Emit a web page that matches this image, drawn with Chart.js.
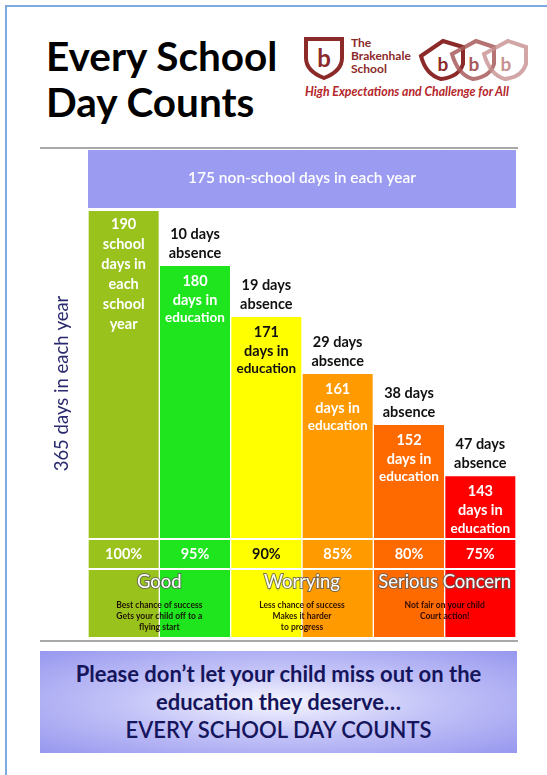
<!DOCTYPE html>
<html>
<head>
<meta charset="utf-8">
<script src="https://cdn.jsdelivr.net/npm/chart.js@4"></script>
<style>
  body { margin: 0; width: 547px; height: 775px; background: #fff; position: relative; overflow: hidden; font-family: Lato, "Open Sans", sans-serif; }
  .frame { position: absolute; left: 5px; top: 5px; width: 560px; height: 800px; border-left: 2px solid #7ea9e1; border-top: 2px solid #7ea9e1; }
  .title { position: absolute; left: 46px; top: 33px; font-size: 40.5px; font-weight: 700; line-height: 46px; color: #000; }
  .logo { position: absolute; left: 300px; top: 32px; }
  .rule { position: absolute; left: 40px; width: 478px; height: 2px; background: #a8a8a8; }
  .chartbox { position: absolute; left: 40px; top: 150px; width: 476px; height: 487px; }
  .message { position: absolute; left: 40px; top: 651px; width: 477px; height: 102px;
    background: radial-gradient(ellipse at center, #f6f6ff 0%, #c4c4f8 45%, #9797ef 100%);
    color: #15155c; font-weight: 700; font-size: 22px; text-align: center; line-height: 28px; padding-top: 9px; box-sizing: border-box; }
</style>
</head>
<body>
<div class="frame"></div>
<div class="title">Every School<br>Day Counts</div>
<svg class="logo" width="235" height="72" viewBox="0 0 235 72">
  <g fill="none" stroke="#8c2a2a" stroke-width="4">
    <path d="M6 7 L42 7 L42 26 Q42 39 24 46 Q6 39 6 26 Z"/>
  </g>
  <text x="24" y="35" fill="#8c2a2a" font-size="24" font-weight="700" text-anchor="middle" font-family="Lato">b</text>
  <g font-family="Lato" font-weight="700" font-size="12" fill="#8c2a2a">
    <text x="51" y="15">The</text>
    <text x="51" y="28">Brakenhale</text>
    <text x="51" y="41">School</text>
  </g>
  <g fill="none" stroke-width="4">
    <path d="M121 24 L143 9 L163 15 L163 32 Q159 45 141 47 Q126 43 121 24 Z" stroke="#8c2a2a"/>
    <path d="M152 22 L176 9 L194 15 L194 32 Q190 45 173 47 Q158 43 152 22 Z" stroke="#a85a5a" opacity="0.85"/>
    <path d="M184 22 L208 9 L226 15 L226 32 Q222 45 205 47 Q190 43 184 22 Z" stroke="#c79090" opacity="0.8"/>
  </g>
  <g font-family="Lato" font-weight="700" font-size="19" text-anchor="middle">
    <text x="143" y="39" fill="#8c2a2a">b</text>
    <text x="174" y="39" fill="#a85a5a">b</text>
    <text x="206" y="39" fill="#c79090">b</text>
  </g>
  <text x="5" y="64" font-family="Lato" font-style="italic" font-weight="700" font-size="12.3" fill="#b5262a">High Expectations and Challenge for All</text>
</svg>
<div class="rule" style="top:147px"></div>
<div class="chartbox"><canvas id="myChart"></canvas></div>
<div class="rule" style="top:640px"></div>
<div class="message">Please don’t let your child miss out on the<br>education they deserve…<br><span style="font-weight:600">EVERY SCHOOL DAY COUNTS</span></div>

<script>
const attendance = ['100%', '95%', '90%', '85%', '80%', '75%'];
const educationDays = [190, 180, 171, 161, 152, 143];
const absenceDays = [0, 10, 19, 29, 38, 47];
const nonSchoolDays = [175, 175, 175, 175, 175, 175];
const barColors = ['#99c21c', '#1fe51f', '#ffff00', '#ff9a00', '#ff6a00', '#ff0000'];
const darkText = [false, false, true, false, false, false];
const bandNames = ['Good', 'Worrying', 'Serious Concern'];
const bandNotes = [
    ['Best chance of success', 'Gets your child off to a', 'flying start'],
    ['Less chance of success', 'Makes it harder', 'to progress'],
    ['Not fair on your child', 'Court action!']
];

const FONT = 'Lato, "Open Sans", sans-serif';

// text written over the bars, the absence gaps and the bottom rows
const posterText = {
    id: 'posterText',
    afterDatasetsDraw(chart) {
        const ctx = chart.ctx;
        const area = chart.chartArea;
        const band = chart.getDatasetMeta(0).data;
        const bars = chart.getDatasetMeta(1).data;
        ctx.save();
        ctx.textAlign = 'center';
        ctx.textBaseline = 'middle';

        // white gaps and row separators
        ctx.fillStyle = '#fff';
        ctx.fillRect(area.left, band[0].y, area.right - area.left, 3);
        ctx.fillRect(area.left, area.bottom - 99, area.right - area.left, 2);
        ctx.fillRect(area.left, area.bottom - 69, area.right - area.left, 2);

        // axis title, drawn by hand so it can sit a little above centre
        ctx.save();
        ctx.translate(area.left - 26, (area.top + area.bottom) / 2 - 10);
        ctx.rotate(-Math.PI / 2);
        ctx.fillStyle = '#2a2a6e';
        ctx.font = '400 18.5px ' + FONT;
        ctx.fillText('365 days in each year', 0, 0);
        ctx.restore();

        // band label
        ctx.fillStyle = '#fff';
        ctx.font = '600 15.5px ' + FONT;
        ctx.fillText(nonSchoolDays[0] + ' non-school days in each year', (area.left + area.right) / 2, area.top + 28);

        bars.forEach((bar, i) => {
            const x = bar.x;
            const top = bar.y;
            ctx.fillStyle = darkText[i] ? '#111' : '#fff';
            let lines;
            if (i === 0) {
                lines = [educationDays[i], 'school', 'days in', 'each', 'school', 'year'];
            } else {
                lines = [educationDays[i], 'days in', 'education'];
            }
            lines.forEach((t, k) => {
                const small = t === 'education';
                ctx.font = '700 ' + (small ? '13.5px ' : '14.5px ') + FONT;
                const step = i === 0 ? 20 : 19;
                ctx.fillText(String(t), x, top + 15 + k * step - (small ? 1 : 0));
            });

            if (absenceDays[i] > 0) {
                ctx.fillStyle = '#111';
                ctx.font = '700 14.5px ' + FONT;
                ctx.fillText(absenceDays[i] + ' days', x, top - 32);
                ctx.fillText('absence', x, top - 13);
            }

            ctx.fillStyle = darkText[i] ? '#111' : '#fff';
            ctx.font = '700 14.5px ' + FONT;
            ctx.fillText(attendance[i], x, area.bottom - 83);
        });

        bandNames.forEach((name, j) => {
            const x = (bars[j * 2].x + bars[j * 2 + 1].x) / 2;
            ctx.font = '400 18.5px ' + FONT;
            ctx.lineWidth = 2;
            ctx.strokeStyle = 'rgba(90,90,90,0.8)';
            ctx.strokeText(name, x, area.bottom - 55);
            ctx.fillStyle = '#fff';
            ctx.fillText(name, x, area.bottom - 55);
            ctx.font = '700 8.5px ' + FONT;
            ctx.fillStyle = 'rgba(20,0,0,0.9)';
            bandNotes[j].forEach((t, k) => {
                ctx.fillText(t, x, area.bottom - 32 + k * 11);
            });
        });
        ctx.restore();
    }
};

const data = {
    labels: attendance,
    datasets: [
        {
            label: 'Non-school days',
            data: nonSchoolDays,
            yAxisID: 'yTop',
            backgroundColor: '#9b9bf2',
            borderWidth: 0,
            barPercentage: 1.02,
            categoryPercentage: 1,
            grouped: false
        },
        {
            label: 'Days in education',
            data: educationDays,
            yAxisID: 'y',
            backgroundColor: barColors,
            borderColor: '#fff',
            borderWidth: { left: 1, right: 1, top: 0, bottom: 0 },
            barPercentage: 1,
            categoryPercentage: 1,
            grouped: false
        }
    ]
};

const config = {
    type: 'bar',
    data: data,
    options: {
        responsive: false,
        animation: false,
        layout: { padding: 0 },
        scales: {
            x: { display: false },
            y: {
                min: 114.7,
                max: 200.4,
                ticks: { display: false },
                grid: { display: false },
                border: { display: false },
                afterFit(axis) { axis.width = 48; }
            },
            yTop: {
                display: false,
                reverse: true,
                min: 0,
                max: 1469
            }
        },
        plugins: {
            legend: { display: false },
            tooltip: { enabled: false }
        }
    },
    plugins: [posterText]
};

const canvas = document.getElementById('myChart');
canvas.width = 476;
canvas.height = 487;
var myChart = new Chart(canvas, config);
</script>
</body>
</html>
